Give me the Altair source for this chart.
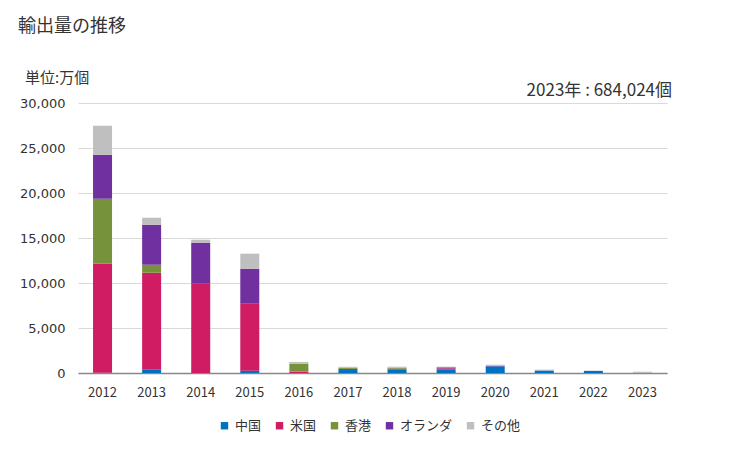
import altair as alt
import pandas as pd

years = ["2012", "2013", "2014", "2015", "2016", "2017", "2018", "2019", "2020", "2021", "2022", "2023"]
series = ["中国", "米国", "香港", "オランダ", "その他"]
colors = ["#0070C0", "#D01C62", "#76933C", "#7030A0", "#BFBFBF"]

china   = [20, 400, 0, 260, 0, 330, 370, 370, 740, 280, 230, 0]
usa     = [12130, 10740, 9960, 7480, 160, 130, 110, 150, 0, 0, 0, 0]
hk      = [7220, 890, 0, 0, 880, 130, 110, 0, 0, 0, 0, 0]
nl      = [4890, 4440, 4520, 3850, 0, 0, 0, 110, 70, 0, 0, 0]
other   = [3220, 780, 330, 1670, 190, 100, 110, 70, 110, 90, 30, 140]

rows = []
for i, y in enumerate(years):
    for k, (name, vals) in enumerate(zip(series, [china, usa, hk, nl, other])):
        rows.append({"year": y, "country": name, "value": vals[i], "ord": k})
df = pd.DataFrame(rows)

FONT = "Noto Sans CJK JP"

bars = alt.Chart(df).mark_bar(size=19).encode(
    x=alt.X("year:N", sort=years, title=None,
            scale=alt.Scale(paddingInner=0.6, paddingOuter=0.3),
            axis=alt.Axis(labelAngle=0, labelFontSize=13, labelFont=FONT, labelColor="#333333",
                          ticks=False, domainColor="#888888", domainWidth=1.5, labelPadding=13)),
    y=alt.Y("value:Q", stack="zero", title=None,
            scale=alt.Scale(domain=[0, 30000]),
            axis=alt.Axis(values=[0, 5000, 10000, 15000, 20000, 25000, 30000], format=",.0f",
                          labelFontSize=13, labelFont="DejaVu Sans", labelColor="#333333",
                          ticks=False, domain=False, gridColor="#D9D9D9", labelPadding=13)),
    color=alt.Color("country:N", sort=series,
                    scale=alt.Scale(domain=series, range=colors),
                    legend=alt.Legend(title=None, orient="none", direction="horizontal",
                                      legendX=140, legendY=316, symbolType="square",
                                      symbolSize=55, labelFontSize=13, labelFont=FONT,
                                      labelOffset=4, labelColor="#333333", columnPadding=11,
                                      symbolStrokeWidth=0)),
    order=alt.Order("ord:Q", sort="ascending"),
)

title = alt.Chart(pd.DataFrame({"t": ["輸出量の推移"]})).mark_text(
    align="left", baseline="middle", fontSize=18, font=FONT, color="#333333").encode(
    text="t:N", x=alt.value(-60), y=alt.value(-76))
unit = alt.Chart(pd.DataFrame({"t": ["単位:万個"]})).mark_text(
    align="left", baseline="middle", fontSize=15, font=FONT, color="#333333").encode(
    text="t:N", x=alt.value(-53), y=alt.value(-25))
note = alt.Chart(pd.DataFrame({"t": ["2023年 : 684,024個"]})).mark_text(
    align="right", baseline="middle", fontSize=17, font=FONT, color="#333333").encode(
    text="t:N", x=alt.value(594), y=alt.value(-12))

chart = alt.layer(bars, title, unit, note).properties(
    width=589, height=270,
    background="white",
    autosize=alt.AutoSizeParams(type="none"),
    padding={"left": 70, "top": 95, "right": 40, "bottom": 70},
).configure_view(strokeWidth=0, stroke="transparent")

chart.save("out.html", embed_options={"renderer": "svg", "actions": False})
